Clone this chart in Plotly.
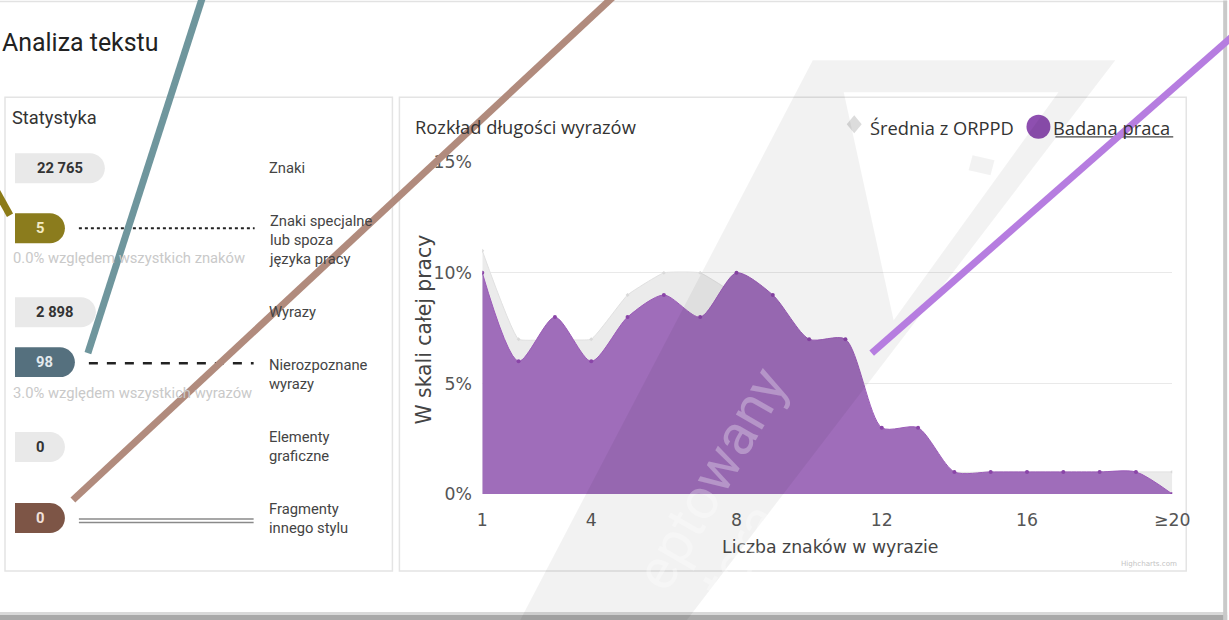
import plotly.graph_objects as go

# Reference canvas: every position below is given in reference pixels (1229x620)
W, H = 1229, 620
# Measured photographing of the page: out = OX + SX*page_x, out = OY + SY*page_y
OX, SX = 5.0, 0.983
OY, SY = 9.6, 0.969
FIG_W, FIG_H = 1245, 630
FS = 1 / SX  # font compensation for the final down-scaling

# ---------------- data ----------------
word_lengths = list(range(1, 21))
x_tick_vals = [1, 4, 8, 12, 16, 20]
x_tick_text = ["1", "4", "8", "12", "16", "≥20"]
y_tick_vals = [0, 5, 10, 15]
y_tick_text = ["0%", "5%", "10%", "15%"]

badana_praca = [10, 6, 8, 6, 8, 9, 8, 10, 9, 7, 7, 3, 3, 1, 1, 1, 1, 1, 1, 0]
srednia_orppd = [11, 7, 7, 7, 9, 10, 10, 9, 8, 6, 5, 3, 2, 1, 1, 1, 1, 1, 1, 1]

stat_values = ["22 765", "5", "2 898", "98", "0", "0"]
stat_labels = ["Znaki", "Znaki specjalne<br>lub spoza<br>języka pracy", "Wyrazy",
               "Nierozpoznane<br>wyrazy", "Elementy<br>graficzne", "Fragmenty<br>innego stylu"]
stat_notes = ["", "0.0% względem wszystkich znaków", "", "3.0% względem wszystkich wyrazów", "", ""]

# ---------------- helpers (reference pixels -> paper fractions) ----------------
def X(px):
    return (px - OX) / SX / FIG_W

def Y(py):
    return 1 - (py - OY) / SY / FIG_H

def pt(px, py):
    return f"{X(px):.5f},{Y(py):.5f}"

shapes = []
annotations = []

UI = "Roboto, Noto Sans, sans-serif"
OS = "Open Sans, Noto Sans, sans-serif"
HC = "DejaVu Sans, sans-serif"

def rect(x0, y0, x1, y1, fill=None, line=None, lw=1, layer="below"):
    shapes.append(dict(type="rect", xref="paper", yref="paper",
                       x0=X(x0), x1=X(x1), y0=Y(y1), y1=Y(y0),
                       fillcolor=fill if fill else "rgba(0,0,0,0)",
                       line=dict(color=line if line else "rgba(0,0,0,0)", width=lw if line else 0),
                       layer=layer))

def seg(x0, y0, x1, y1, color, width=1, dash="solid", layer="above"):
    shapes.append(dict(type="line", xref="paper", yref="paper",
                       x0=X(x0), y0=Y(y0), x1=X(x1), y1=Y(y1),
                       line=dict(color=color, width=width, dash=dash), layer=layer))

def poly(points, fill, layer="above", rule="nonzero"):
    d = "M " + " L ".join(pt(a, b) for a, b in points) + " Z"
    shapes.append(dict(type="path", xref="paper", yref="paper", path=d,
                       fillcolor=fill, line=dict(width=0), layer=layer, fillrule=rule))

def pill(x0, y0, x1, y1, color):
    r = (y1 - y0) / 2
    ym = (y0 + y1) / 2
    k = 0.5523 * r
    xc = x1 - r
    d = (f"M {pt(x0, y0)} L {pt(xc, y0)} "
         f"C {pt(xc + k, y0)} {pt(x1, ym - k)} {pt(x1, ym)} "
         f"C {pt(x1, ym + k)} {pt(xc + k, y1)} {pt(xc, y1)} "
         f"L {pt(x0, y1)} Z")
    shapes.append(dict(type="path", xref="paper", yref="paper", path=d,
                       fillcolor=color, line=dict(width=0), layer="below"))

def text(px, py, s, size=14, color="#444", family=UI, xa="left", ya="middle", angle=0):
    annotations.append(dict(x=X(px), y=Y(py), xref="paper", yref="paper", text=s,
                            showarrow=False, xanchor=xa, yanchor=ya, textangle=angle,
                            align="left" if xa == "left" else "center",
                            font=dict(size=size * FS, color=color, family=family)))

# ---------------- page frame ----------------
seg(0, 1, W, 1, "#e2e2e2", 1.5, layer="below")
rect(0, 612, W, 615, fill="#d9d9d9")
rect(0, 615, W, 620, fill="#a9a9a9")
rect(1225, 0, 1229, 620, fill="#c9c9c9")

text(0, 42, "Analiza tekstu", size=24.5, color="#222")

# ---------------- left panel ----------------
rect(5, 97, 393, 571, line="#e4e4e4", lw=1.5)
text(10, 117, "Statystyka", size=18, color="#333")

pill_boxes = [(15, 153, 105, 183), (15, 213, 65, 243), (15, 297, 96, 327),
              (15, 347, 75, 377), (15, 432, 65, 462), (15, 503, 65, 533)]
pill_colors = ["#e9e9e9", "#8b7c1d", "#e9e9e9", "#55707e", "#e9e9e9", "#7d5546"]
pill_text_colors = ["#333", "#f3ebc4", "#333", "#e3eaee", "#333", "#f1e1da"]
label_y = [168, 240, 312, 374.5, 446, 518]
note_y = [None, 258, None, 393, None, None]

for i, (x0, y0, x1, y1) in enumerate(pill_boxes):
    pill(x0, y0, x1, y1, pill_colors[i])
    text((x0 + x1) / 2, (y0 + y1) / 2, f"<b>{stat_values[i]}</b>",
         size=14.5, color=pill_text_colors[i], xa="center")
    text(267, label_y[i], stat_labels[i], size=14.5, color="#444")
    if stat_notes[i]:
        text(11, note_y[i], stat_notes[i], size=14.5, color="#c9c9c9")

seg(79, 228, 255, 228, "#222", 2.2, dash="dot", layer="below")
seg(89, 363, 254, 363, "#222", 2.5, dash="dash", layer="below")
seg(79, 519, 254, 519, "#8a8a8a", 1.5, layer="below")
seg(79, 522.5, 254, 522.5, "#8a8a8a", 1.5, layer="below")

# ---------------- chart panel ----------------
rect(400, 97, 1188, 571, line="#e4e4e4", lw=1.5)
text(414, 126, "Rozkład długości wyrazów", size=18, color="#333", family=OS)

# legend
shapes.append(dict(type="path", xref="paper", yref="paper",
                   path=f"M {pt(855.5, 115)} L {pt(863, 124)} L {pt(855.5, 133)} L {pt(848, 124)} Z",
                   fillcolor="#dcdcdc", line=dict(width=0), layer="below"))
text(869, 127, "Średnia z ORPPD", size=18, color="#333", family=OS)
shapes.append(dict(type="circle", xref="paper", yref="paper",
                   x0=X(1028), x1=X(1052), y0=Y(138.5), y1=Y(114.5),
                   fillcolor="#8e4fb0", line=dict(width=0), layer="below"))
text(1053, 127, "Badana praca", size=18, color="#333", family=OS)
seg(1057, 136.5, 1175, 136.5, "#444", 1.2, layer="below")

text(831, 547, "Liczba znaków w wyrazie", size=17, color="#444", family=HC, xa="center")
text(425, 329, "W skali całej pracy", size=20, color="#444", family=HC, xa="center", angle=-90)
text(1181, 564, "Highcharts.com", size=7, color="#c4c4c4", family=HC, xa="right")

# ---------------- traces ----------------
fig = go.Figure()
fig.add_trace(go.Scatter(
    x=word_lengths, y=srednia_orppd, name="Średnia z ORPPD",
    mode="lines+markers",
    line=dict(shape="spline", smoothing=0.35, color="#e1e1e1", width=1),
    marker=dict(size=3, color="#d9d9d9", symbol="diamond"),
    fill="tozeroy", fillcolor="#ebebeb", showlegend=False, hoverinfo="skip"))
fig.add_trace(go.Scatter(
    x=word_lengths, y=badana_praca, name="Badana praca",
    mode="lines+markers",
    line=dict(shape="spline", smoothing=0.75, color="#9b5bb8", width=1),
    marker=dict(size=4, color="#8a45a8"),
    fill="tozeroy", fillcolor="#9f6dba", showlegend=False, hoverinfo="skip"))

# ---------------- watermark (overlay) ----------------
poly([(814, 60), (1117, 60), (688, 620), (521, 620), (814, 60),
      (845, 92), (895, 320), (1060, 92), (845, 92)],
     "rgba(0,0,0,0.05)", rule="evenodd")
poly([(974, 155), (996, 160), (992, 175), (970, 170)], "rgba(0,0,0,0.05)")
text(712, 478, "eptowany", size=56, color="rgba(255,255,255,0.3)", xa="center", angle=-60)
text(742, 552, "tora", size=56, color="rgba(255,255,255,0.3)", xa="center", angle=-60)

# ---------------- drawn-over marker lines ----------------
seg(205, -10, 88, 353, "#6f969d", 7)
seg(621, -10, 73, 500, "#b18b7d", 7)
seg(1240, 31, 873, 353, "#b67de0", 7)
seg(-10, 179, 10, 215, "#8c7b17", 7)

fig.update_layout(
    width=FIG_W, height=FIG_H, autosize=False,
    margin=dict(l=0, r=0, t=0, b=0, pad=0),
    paper_bgcolor="white", plot_bgcolor="rgba(0,0,0,0)",
    shapes=shapes, annotations=annotations, showlegend=False,
    xaxis=dict(domain=[X(483), X(1174)], range=[1, 20], tickvals=x_tick_vals, ticktext=x_tick_text,
               showgrid=False, zeroline=False, showline=False,
               ticks="outside", ticklen=10, tickcolor="rgba(0,0,0,0)",
               tickfont=dict(family=HC, size=17 * FS, color="#555"), fixedrange=True),
    yaxis=dict(domain=[Y(494), Y(162)], range=[0, 15], tickvals=y_tick_vals, ticktext=y_tick_text,
               showgrid=True, gridcolor="#e9e9e9", gridwidth=1, zeroline=False, showline=False,
               ticks="outside", ticklen=6, tickcolor="rgba(0,0,0,0)",
               tickfont=dict(family=HC, size=17 * FS, color="#555"), fixedrange=True),
)

fig.write_html(
    "out.html",
    config={"displayModeBar": False, "responsive": False},
    post_script="document.body.style.margin='0';document.body.style.overflow='hidden';",
)
